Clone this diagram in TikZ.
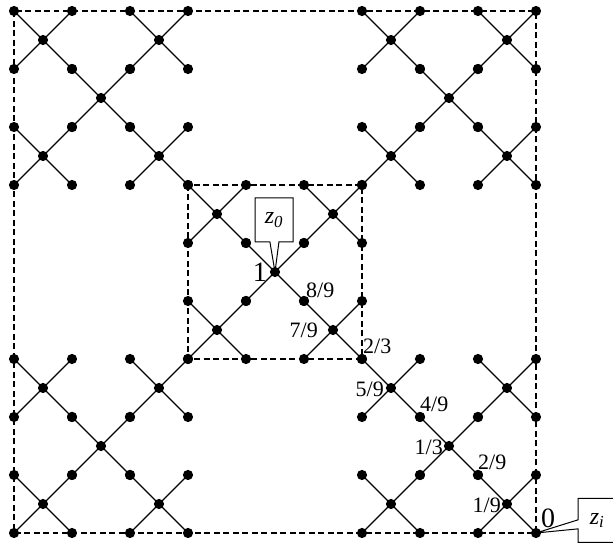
\documentclass[tikz,border=0pt]{standalone}
\usepackage{fontspec}
\setmainfont{Liberation Serif}
\usepackage{tikz}
\usetikzlibrary{shapes.callouts}

\tikzset{
  edge/.style={line width=1.3pt},
  frame/.style={line width=1.5pt, dash pattern=on 6pt off 3.5pt},
  frac/.style={font=\fontsize{22}{24}\selectfont, inner sep=0pt},
  bignum/.style={font=\fontsize{28}{30}\selectfont, inner sep=0pt},
  tag/.style={rectangle callout, draw, fill=white, line width=1pt,
    minimum width=38pt, minimum height=44pt, callout pointer width=9pt,
    font=\fontsize{24}{26}\selectfont\itshape}
}

\begin{document}
\begin{tikzpicture}[x=58pt, y=-58pt]
\useasboundingbox (-0.2414,-0.1897) rectangle (10.328,9.172);

% 小さな X（25 個）
\foreach \a/\b in {0/0,2/0,1/1,0/2,2/2}
  \foreach \c/\d in {0/0,2/0,1/1,0/2,2/2}
  {
    \draw[edge] ({3*\a+\c},{3*\b+\d}) -- ++(1,1);
    \draw[edge] ({3*\a+\c+1},{3*\b+\d}) -- ++(-1,1);
  }

% 破線の枠
\draw[frame] (0,0) rectangle (9,9);
\draw[frame] (3,3) rectangle (6,6);

% 対角線上の点
\foreach \k in {0,...,9}
  \coordinate (t\k) at ({9-\k/2},{9-\k/2});

% 吹き出し
\node[tag, callout absolute pointer={(t9)}] (z0) at (4.483,3.603) {z\textsubscript{0}};
\node[tag, callout absolute pointer={(t0)}] (zi) at (10.052,8.784) {z\textsubscript{i}};

% 点
\foreach \a/\b in {0/0,2/0,1/1,0/2,2/2}
  \foreach \c/\d in {0/0,2/0,1/1,0/2,2/2}
    \foreach \p/\q in {0/0,1/0,0/1,1/1,0.5/0.5}
      \fill ({3*\a+\c+\p},{3*\b+\d+\q}) circle (5.1pt);

% ラベル
\node[bignum, anchor=base west, xshift=5pt, yshift=5pt] (l0) at (t0) {0};
\node[frac, anchor=base east, xshift=-6pt, yshift=-9pt] (l1) at (t1) {1/9};
\node[frac, anchor=base west, xshift=0pt, yshift=5pt] (l2) at (t2) {2/9};
\node[frac, anchor=base east, xshift=-6pt, yshift=-9pt] (l3) at (t3) {1/3};
\node[frac, anchor=base west, xshift=0pt, yshift=5pt] (l4) at (t4) {4/9};
\node[frac, anchor=base east, xshift=-7pt, yshift=-9pt] (l5) at (t5) {5/9};
\node[frac, anchor=base west, xshift=1pt, yshift=5pt] (l6) at (t6) {2/3};
\node[frac, anchor=base east, xshift=-15pt, yshift=-8pt] (l7) at (t7) {7/9};
\node[frac, anchor=base west, xshift=2pt, yshift=3pt] (l8) at (t8) {8/9};
\node[bignum, anchor=base east, xshift=-8pt, yshift=-10pt] (l9) at (t9) {1};
\end{tikzpicture}
\end{document}
